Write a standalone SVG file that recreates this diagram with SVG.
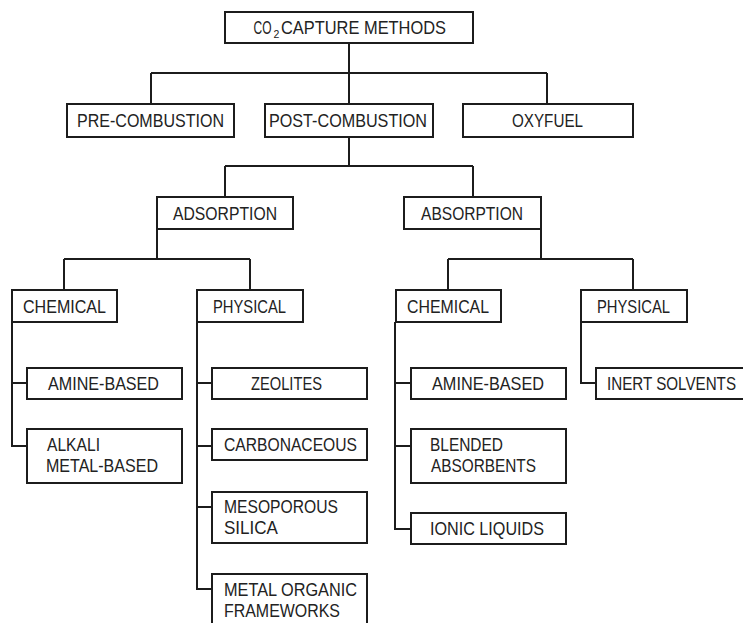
<svg xmlns="http://www.w3.org/2000/svg" width="743" height="623" viewBox="0 0 743 623">
<style>
.b{fill:#fff;stroke:#1c1c1c;stroke-width:2}
.c{fill:none;stroke:#1c1c1c;stroke-width:2}
text{font-family:"Liberation Sans","Open Sans",sans-serif;font-size:17.5px;fill:#222}
text.sub{font-size:10.5px}
</style>
<rect width="743" height="623" fill="#fff"/>
<g id="connectors">
<path class="c" d="M349,43V73M151,73H547M151,73V104M349,73V104M547,73V104"/>
<path class="c" d="M349,137V166M225,166H473M225,166V197M473,166V197"/>
<path class="c" d="M157,229V259M64,259H250M64,259V290M250,259V290"/>
<path class="c" d="M541,229V259M448,259H633M448,259V290M633,259V290"/>
<path class="c" d="M12,322V446H27M12,383H27"/>
<path class="c" d="M197,322V589H212M197,383H212M197,446H212M197,507H212"/>
<path class="c" d="M395,322V529H411M395,383H411M395,446H411"/>
<path class="c" d="M581,322V383H596"/>
</g>
<g id="co2"><rect class="b" x="225" y="12" width="248" height="31"/><text x="253.5" y="34" textLength="18" lengthAdjust="spacingAndGlyphs">CO</text><text class="sub" x="273.5" y="37.5">2</text><text x="281" y="34" textLength="165" lengthAdjust="spacingAndGlyphs">CAPTURE METHODS</text></g>
<g id="pre"><rect class="b" x="67" y="104" width="167" height="33"/><text x="77" y="127" textLength="147" lengthAdjust="spacingAndGlyphs">PRE-COMBUSTION</text></g>
<g id="post"><rect class="b" x="265" y="104" width="168" height="33"/><text x="269" y="127" textLength="158" lengthAdjust="spacingAndGlyphs">POST-COMBUSTION</text></g>
<g id="oxy"><rect class="b" x="463" y="104" width="170" height="33"/><text x="512" y="127" textLength="71" lengthAdjust="spacingAndGlyphs">OXYFUEL</text></g>
<g id="adsorption"><rect class="b" x="157" y="197" width="136" height="32"/><text x="173" y="220" textLength="104" lengthAdjust="spacingAndGlyphs">ADSORPTION</text></g>
<g id="absorption"><rect class="b" x="404" y="197" width="137" height="32"/><text x="421" y="220" textLength="102" lengthAdjust="spacingAndGlyphs">ABSORPTION</text></g>
<g id="adsChemical"><rect class="b" x="12" y="290" width="105" height="32"/><text x="23" y="313" textLength="83" lengthAdjust="spacingAndGlyphs">CHEMICAL</text></g>
<g id="adsPhysical"><rect class="b" x="197" y="290" width="106" height="32"/><text x="213" y="313" textLength="73" lengthAdjust="spacingAndGlyphs">PHYSICAL</text></g>
<g id="absChemical"><rect class="b" x="396" y="290" width="105" height="32"/><text x="407" y="313" textLength="82" lengthAdjust="spacingAndGlyphs">CHEMICAL</text></g>
<g id="absPhysical"><rect class="b" x="581" y="290" width="106" height="32"/><text x="597" y="313" textLength="73" lengthAdjust="spacingAndGlyphs">PHYSICAL</text></g>
<g id="adsAmine"><rect class="b" x="27" y="368" width="155" height="31"/><text x="48" y="390" textLength="111" lengthAdjust="spacingAndGlyphs">AMINE-BASED</text></g>
<g id="alkali"><rect class="b" x="27" y="429" width="155" height="54"/><text x="47" y="451" textLength="53" lengthAdjust="spacingAndGlyphs">ALKALI</text><text x="46" y="472" textLength="112" lengthAdjust="spacingAndGlyphs">METAL-BASED</text></g>
<g id="zeolites"><rect class="b" x="212" y="368" width="155" height="31"/><text x="251" y="390" textLength="71" lengthAdjust="spacingAndGlyphs">ZEOLITES</text></g>
<g id="carbon"><rect class="b" x="212" y="429" width="155" height="31"/><text x="224" y="451" textLength="133" lengthAdjust="spacingAndGlyphs">CARBONACEOUS</text></g>
<g id="meso"><rect class="b" x="212" y="492" width="155" height="51"/><text x="224" y="513" textLength="114" lengthAdjust="spacingAndGlyphs">MESOPOROUS</text><text x="224" y="534" textLength="54" lengthAdjust="spacingAndGlyphs">SILICA</text></g>
<g id="mof"><rect class="b" x="212" y="574" width="155" height="56"/><text x="224" y="596" textLength="133" lengthAdjust="spacingAndGlyphs">METAL ORGANIC</text><text x="224" y="617" textLength="116" lengthAdjust="spacingAndGlyphs">FRAMEWORKS</text></g>
<g id="absAmine"><rect class="b" x="411" y="368" width="155" height="31"/><text x="432" y="390" textLength="112" lengthAdjust="spacingAndGlyphs">AMINE-BASED</text></g>
<g id="blended"><rect class="b" x="411" y="429" width="155" height="54"/><text x="430" y="451" textLength="73" lengthAdjust="spacingAndGlyphs">BLENDED</text><text x="431" y="472" textLength="105" lengthAdjust="spacingAndGlyphs">ABSORBENTS</text></g>
<g id="ionic"><rect class="b" x="411" y="513" width="155" height="31"/><text x="430" y="535" textLength="114" lengthAdjust="spacingAndGlyphs">IONIC LIQUIDS</text></g>
<g id="inert"><rect class="b" x="596" y="368" width="155" height="31"/><text x="607" y="390" textLength="129" lengthAdjust="spacingAndGlyphs">INERT SOLVENTS</text></g>
</svg>
